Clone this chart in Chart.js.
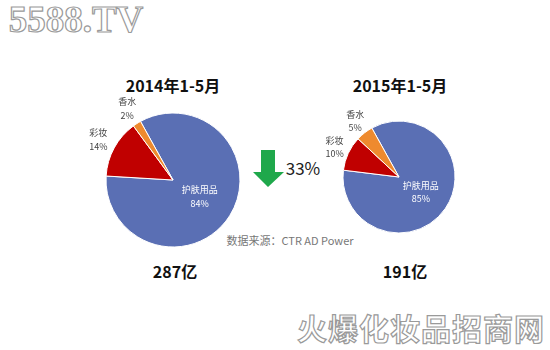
<!DOCTYPE html>
<html>
<head>
<meta charset="utf-8">
<script src="https://cdn.jsdelivr.net/npm/chart.js@4"></script>
<style>
  html, body { margin: 0; padding: 0; background: #fff; }
  #wrap { position: relative; width: 550px; height: 350px; overflow: hidden; font-family: "Noto Sans CJK SC", sans-serif; }
  #wrap canvas { position: absolute; left: 0; top: 0; }
  .t { position: absolute; white-space: nowrap; transform: translate(-50%, -50%); }
  .head { font-size: 16px; font-weight: bold; color: #111; }
  .mark { color: #fff; -webkit-text-stroke: 1.2px #9a9a9a; }
</style>
</head>
<body>
<div id="wrap">
  <div class="t mark" style="left:76px;top:19px;font:bold 37px 'Liberation Serif';">5588.TV</div>
  <div class="t mark" style="left:421px;top:327px;font:bold 30px 'Noto Sans CJK SC';letter-spacing:1px;">火爆化妆品招商网</div>
  <div id="title0" class="t head" style="left:173px;top:85px;"></div>
  <div id="title1" class="t head" style="left:400px;top:85px;"></div>
  <div id="total0" class="t head" style="left:175px;top:271px;"></div>
  <div id="total1" class="t head" style="left:405px;top:271px;"></div>
  <svg style="position:absolute;left:252px;top:149px;" width="34" height="40">
    <polygon points="9,1 23,1 23,23 32,23 16,38 1,23 9,23" fill="#1fa84b"/>
  </svg>
  <div id="drop" class="t" style="left:303px;top:167px;font-size:17px;color:#222;"></div>
  <div class="t" style="left:290px;top:240px;font-size:11px;color:#777;">数据来源：CTR AD Power</div>
  <canvas id="pie0" width="550" height="350"></canvas>
  <canvas id="pie1" width="550" height="350"></canvas>
</div>
<script>
// data
const periods = ['2014年1-5月', '2015年1-5月'];
const totals = [287, 191];          // 亿
const categories = ['护肤用品', '彩妆', '香水'];
const share2014 = [84, 14, 2];
const share2015 = [85, 10, 5];
const drop = 33;                    // %

const colors = ['#5a6fb4', '#c00000', '#ee8a2e'];

document.getElementById('title0').textContent = periods[0];
document.getElementById('title1').textContent = periods[1];
document.getElementById('total0').textContent = totals[0] + '亿';
document.getElementById('total1').textContent = totals[1] + '亿';
document.getElementById('drop').textContent = drop + '%';

// slice names + percents, first slice inside in white, others outside
const sliceLabels = {
  id: 'sliceLabels',
  afterDatasetsDraw(chart) {
    const ctx = chart.ctx;
    const meta = chart.getDatasetMeta(0);
    const values = chart.data.datasets[0].data;
    const gap = chart.options.plugins.sliceLabels.gap;
    ctx.save();
    ctx.font = '9px "Noto Sans CJK SC"';
    ctx.textAlign = 'center';
    ctx.textBaseline = 'middle';
    meta.data.forEach((arc, i) => {
      const p = arc.getProps(['x', 'y', 'startAngle', 'endAngle', 'outerRadius'], true);
      const mid = (p.startAngle + p.endAngle) / 2;
      const k = i === 0 ? 0.47 : 1.27;
      const x = p.x + Math.cos(mid) * p.outerRadius * k;
      const y = p.y + Math.sin(mid) * p.outerRadius * k;
      ctx.fillStyle = i === 0 ? '#fff' : '#444';
      ctx.fillText(chart.data.labels[i], x, y - gap / 2);
      ctx.fillText(values[i] + '%', x, y + gap / 2);
    });
    ctx.restore();
  }
};

function makePie(id, values, cx, cy, r, gap) {
  return new Chart(document.getElementById(id), {
    type: 'pie',
    data: {
      labels: categories,
      datasets: [{
        data: values,
        backgroundColor: colors,
        borderColor: '#fff',
        borderWidth: 1,
        hoverOffset: 0,
        radius: r
      }]
    },
    options: {
      responsive: false,
      animation: false,
      events: [],
      rotation: -29,
      layout: { padding: { left: cx - 70, top: cy - 70, right: 550 - cx - 70, bottom: 350 - cy - 70 } },
      plugins: {
        legend: { display: false },
        tooltip: { enabled: false },
        sliceLabels: { gap: gap }
      }
    },
    plugins: [sliceLabels]
  });
}

makePie('pie0', share2014, 173, 180, 67, 14);
makePie('pie1', share2015, 399, 177, 56, 13);
</script>
</body>
</html>
